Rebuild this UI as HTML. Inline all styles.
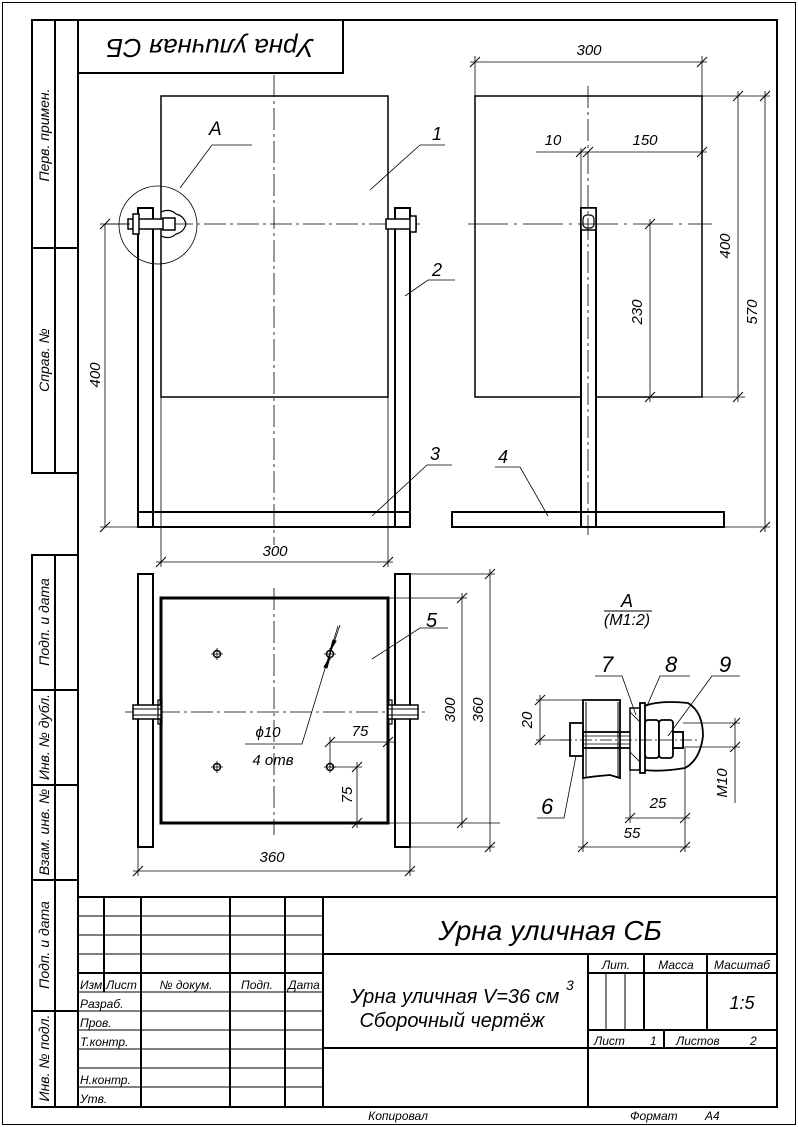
<!DOCTYPE html>
<html><head><meta charset="utf-8"><style>
html,body{margin:0;padding:0;background:#fff;}
svg{display:block;}
text{font-family:"Liberation Sans","DejaVu Sans",sans-serif;font-style:italic;fill:#000;}
</style></head><body>
<svg width="798" height="1127" viewBox="0 0 798 1127" xmlns="http://www.w3.org/2000/svg">
<defs>
<g id="tick"><line x1="-5" y1="5" x2="5" y2="-5" stroke="#000" stroke-width="1"/></g>
</defs>
<rect x="0" y="0" width="798" height="1127" fill="#fff"/>
<!-- outer thin border -->
<rect x="2.5" y="2.5" width="793" height="1122" fill="none" stroke="#000" stroke-width="1"/>
<!-- inner frame -->
<g fill="none" stroke="#000" stroke-width="2">
<rect x="78" y="20" width="699" height="1087"/>
<rect x="32" y="20" width="46" height="453"/>
<line x1="32" y1="248" x2="78" y2="248"/>
<line x1="55" y1="20" x2="55" y2="473"/>
<rect x="32" y="555" width="46" height="552"/>
<line x1="55" y1="555" x2="55" y2="1107"/>
<line x1="32" y1="690" x2="78" y2="690"/>
<line x1="32" y1="785" x2="78" y2="785"/>
<line x1="32" y1="880" x2="78" y2="880"/>
<line x1="32" y1="1011" x2="78" y2="1011"/>
<!-- top-left box -->
<rect x="78" y="20" width="265" height="53"/>
</g>
<!-- side labels -->
<g font-size="14">
<text transform="translate(49,135) rotate(-90)" text-anchor="middle">Перв. примен.</text>
<text transform="translate(49,360) rotate(-90)" text-anchor="middle">Справ. №</text>
<text transform="translate(49,622) rotate(-90)" text-anchor="middle">Подп. и дата</text>
<text transform="translate(49,737) rotate(-90)" text-anchor="middle">Инв. № дубл.</text>
<text transform="translate(49,832) rotate(-90)" text-anchor="middle">Взам. инв. №</text>
<text transform="translate(49,945) rotate(-90)" text-anchor="middle">Подп. и дата</text>
<text transform="translate(49,1058) rotate(-90)" text-anchor="middle">Инв. № подл.</text>
</g>
<text transform="translate(210,46) rotate(180)" text-anchor="middle" font-size="26" dominant-baseline="middle">Урна уличная СБ</text>

<!-- ===== FRONT VIEW ===== -->
<g stroke="#000" fill="none">
<rect x="161" y="96" width="227" height="301" stroke-width="1.5"/>
<rect x="138" y="208" width="15" height="319" stroke-width="2" fill="#fff"/>
<rect x="395" y="208" width="15" height="319" stroke-width="2" fill="#fff"/>
<rect x="138" y="512" width="272" height="15" stroke-width="2"/>
<line x1="153" y1="512" x2="153" y2="527" stroke-width="2"/>
<line x1="395" y1="512" x2="395" y2="527" stroke-width="2"/>
<!-- centerlines -->
<line x1="274" y1="75" x2="274" y2="545" stroke-width="0.8" stroke-dasharray="22,4,3,4"/>
<line x1="105" y1="224" x2="420" y2="224" stroke-width="0.8" stroke-dasharray="22,4,3,4"/>
<!-- bolts -->
<rect x="128" y="219" width="38" height="10" stroke-width="1.5" fill="#fff"/>
<rect x="133" y="214" width="6" height="20" stroke-width="1.5" fill="#fff"/>
<rect x="163" y="218" width="12" height="12" stroke-width="1.5" fill="#fff"/>
<path d="M161 212 Q170 208 176 214 Q184 216 186 224 Q184 232 176 234 Q170 240 161 236" stroke-width="1.2"/>
<rect x="386" y="219" width="30" height="10" stroke-width="1.5" fill="#fff"/>
<rect x="410" y="216" width="6" height="16" stroke-width="1.5" fill="#fff"/>
<circle cx="158" cy="225" r="39" stroke-width="0.8"/>
<!-- leader A -->
<polyline points="180,188 212,145 252,145" stroke-width="0.8"/>
<!-- leader 1,2,3 -->
<polyline points="370,190 420,145 445,145" stroke-width="0.8"/>
<polyline points="405,296 428,280 455,280" stroke-width="0.8"/>
<polyline points="372,516 427,465 452,465" stroke-width="0.8"/>
<!-- dim 400 -->
<line x1="105" y1="224" x2="105" y2="527" stroke-width="0.8"/>
<line x1="100" y1="224" x2="130" y2="224" stroke-width="0.8"/>
<line x1="100" y1="527" x2="138" y2="527" stroke-width="0.8"/>
<!-- dim 300 -->
<line x1="161" y1="397" x2="161" y2="567" stroke-width="0.8"/>
<line x1="388" y1="397" x2="388" y2="567" stroke-width="0.8"/>
<line x1="156" y1="562" x2="393" y2="562" stroke-width="0.8"/>
</g>
<use href="#tick" x="105" y="224"/><use href="#tick" x="105" y="527"/>
<use href="#tick" x="161" y="562"/><use href="#tick" x="388" y="562"/>
<g font-size="18">
<text x="209" y="135" font-size="19">А</text>
<text x="432" y="140">1</text>
<text x="432" y="276">2</text>
<text x="430" y="460">3</text>
<text x="275" y="556" text-anchor="middle" font-size="15">300</text>
<text transform="translate(100,375) rotate(-90)" text-anchor="middle" font-size="15">400</text>
</g>

<!-- ===== SIDE VIEW ===== -->
<g stroke="#000" fill="none">
<rect x="475" y="96" width="227" height="301" stroke-width="1.5"/>
<rect x="581" y="208" width="15" height="319" stroke-width="2" fill="#fff"/>
<rect x="452" y="512" width="272" height="15" stroke-width="2"/>
<line x1="581" y1="512" x2="581" y2="527" stroke-width="2"/>
<line x1="596" y1="512" x2="596" y2="527" stroke-width="2"/>
<rect x="581" y="208" width="15" height="22" stroke-width="1.5" fill="#fff"/>
<rect x="583" y="215" width="11" height="13" rx="4" stroke-width="1.2"/>
<line x1="588" y1="86" x2="588" y2="535" stroke-width="0.8" stroke-dasharray="22,4,3,4"/>
<line x1="468" y1="224" x2="712" y2="224" stroke-width="0.8" stroke-dasharray="40,6,3,6"/>
<!-- dim 300 -->
<line x1="475" y1="56" x2="475" y2="96" stroke-width="0.8"/>
<line x1="702" y1="56" x2="702" y2="96" stroke-width="0.8"/>
<line x1="470" y1="62" x2="707" y2="62" stroke-width="0.8"/>
<!-- dim 10/150 -->
<line x1="536" y1="152" x2="707" y2="152" stroke-width="0.8"/>
<line x1="581" y1="148" x2="581" y2="208" stroke-width="0.8"/>
<!-- dim 400 / 570 -->
<line x1="702" y1="96" x2="770" y2="96" stroke-width="0.8"/>
<line x1="702" y1="397" x2="745" y2="397" stroke-width="0.8"/>
<line x1="724" y1="527" x2="770" y2="527" stroke-width="0.8"/>
<line x1="738" y1="91" x2="738" y2="402" stroke-width="0.8"/>
<line x1="765" y1="91" x2="765" y2="532" stroke-width="0.8"/>
<!-- dim 230 -->
<line x1="650" y1="219" x2="650" y2="402" stroke-width="0.8"/>
<!-- leader 4 -->
<polyline points="548,516 520,467 495,467" stroke-width="0.8"/>
</g>
<use href="#tick" x="475" y="62"/><use href="#tick" x="702" y="62"/>
<use href="#tick" x="581" y="152"/><use href="#tick" x="588" y="152"/><use href="#tick" x="702" y="152"/>
<use href="#tick" x="738" y="96"/><use href="#tick" x="738" y="397"/>
<use href="#tick" x="765" y="96"/><use href="#tick" x="765" y="527"/>
<use href="#tick" x="650" y="224"/><use href="#tick" x="650" y="397"/>
<g font-size="15">
<text x="589" y="55" text-anchor="middle">300</text>
<text x="553" y="145" text-anchor="middle">10</text>
<text x="645" y="145" text-anchor="middle">150</text>
<text transform="translate(730,246) rotate(-90)" text-anchor="middle">400</text>
<text transform="translate(757,312) rotate(-90)" text-anchor="middle">570</text>
<text transform="translate(642,312) rotate(-90)" text-anchor="middle">230</text>
<text x="498" y="463" font-size="18">4</text>
</g>

<!-- ===== TOP VIEW ===== -->
<g stroke="#000" fill="none">
<rect x="161" y="598" width="227" height="225" stroke-width="3"/>
<rect x="138" y="574" width="15" height="273" stroke-width="2" fill="#fff"/>
<rect x="395" y="574" width="15" height="273" stroke-width="2" fill="#fff"/>
<line x1="274" y1="588" x2="274" y2="835" stroke-width="0.8" stroke-dasharray="22,4,3,4"/>
<line x1="125" y1="712" x2="425" y2="712" stroke-width="0.8" stroke-dasharray="22,4,3,4"/>
<rect x="133" y="705" width="28" height="14" stroke-width="1.5" fill="#fff"/>
<line x1="133" y1="709" x2="161" y2="709" stroke-width="1"/><line x1="133" y1="715" x2="161" y2="715" stroke-width="1"/>
<rect x="158" y="700" width="4" height="24" stroke-width="1.2"/>
<rect x="388" y="705" width="30" height="14" stroke-width="1.5" fill="#fff"/>
<line x1="388" y1="709" x2="418" y2="709" stroke-width="1"/><line x1="388" y1="715" x2="418" y2="715" stroke-width="1"/>
<rect x="388" y="700" width="4" height="24" stroke-width="1.2"/>
<g stroke-width="1.5">
<circle cx="217" cy="654" r="3.5"/><circle cx="330" cy="654" r="3.5"/>
<circle cx="217" cy="767" r="3.5"/><circle cx="330" cy="767" r="3.5"/>
</g>
<g stroke-width="0.8">
<path d="M211 654h12M217 648v12M324 654h12M330 648v12M211 767h12M217 761v12M324 767h12M330 761v12"/>
<!-- leader phi10 -->
<polyline points="338,626 302,744 245,744"/>
<!-- 75 dims -->
<line x1="330" y1="742" x2="395" y2="742"/>
<line x1="330" y1="737" x2="330" y2="767"/>
<line x1="330" y1="767" x2="362" y2="767"/>
<line x1="357" y1="762" x2="357" y2="828"/>
<line x1="388" y1="823" x2="500" y2="823"/>
<!-- 360 / 300 dims -->
<line x1="138" y1="847" x2="138" y2="876"/>
<line x1="410" y1="847" x2="410" y2="876"/>
<line x1="133" y1="871" x2="415" y2="871"/>
<line x1="388" y1="598" x2="467" y2="598"/>
<line x1="410" y1="574" x2="495" y2="574"/>
<line x1="410" y1="847" x2="495" y2="847"/>
<line x1="462" y1="593" x2="462" y2="828"/>
<line x1="490" y1="569" x2="490" y2="852"/>
<!-- leader 5 -->
<polyline points="372,659 420,628 448,628"/>
</g>
</g>
<path d="M330 651 L336 641 L333 640 Z M330 657 L324 667 L327 668 Z" fill="#000" stroke="#000"/>
<line x1="328" y1="660" x2="340" y2="625" stroke="#000" stroke-width="0.8"/>
<use href="#tick" x="138" y="871"/><use href="#tick" x="410" y="871"/>
<use href="#tick" x="462" y="598"/><use href="#tick" x="462" y="823"/>
<use href="#tick" x="490" y="574"/><use href="#tick" x="490" y="847"/>
<use href="#tick" x="330" y="742"/><use href="#tick" x="388" y="742"/>
<use href="#tick" x="357" y="767"/><use href="#tick" x="357" y="823"/>
<g font-size="15">
<text x="272" y="862" text-anchor="middle">360</text>
<text transform="translate(455,710) rotate(-90)" text-anchor="middle">300</text>
<text transform="translate(483,710) rotate(-90)" text-anchor="middle">360</text>
<text x="360" y="736" text-anchor="middle">75</text>
<text transform="translate(352,795) rotate(-90)" text-anchor="middle">75</text>
<text x="268" y="737" text-anchor="middle">ϕ10</text>
<text x="273" y="765" text-anchor="middle">4 отв</text>
<text x="426" y="627" font-size="20">5</text>
</g>

<!-- ===== DETAIL A ===== -->
<text x="627" y="607" text-anchor="middle" font-size="18" font-style="normal">А</text>
<line x1="604" y1="611" x2="652" y2="611" stroke="#000" stroke-width="1"/>
<text x="627" y="625" text-anchor="middle" font-size="16" font-style="normal">(М1:2)</text>
<g stroke="#000" fill="none">
<path d="M583 700 H620 V778 L610 775 Q596 776 583 778 Z" stroke-width="1.8" fill="#fff"/>
<line x1="586" y1="702" x2="586" y2="777" stroke-width="1"/>
<line x1="618" y1="702" x2="618" y2="777" stroke-width="1"/>
<path d="M644 706 Q660 700 688 703 Q703 712 703 736 Q700 760 685 768 Q662 772 644 770" stroke-width="1.8" fill="#fff"/>
<rect x="570" y="723" width="13" height="33" stroke-width="1.8" fill="#fff"/>
<rect x="583" y="732" width="100" height="16" stroke-width="1.8"/>
<line x1="583" y1="736" x2="683" y2="736" stroke-width="0.8"/>
<line x1="583" y1="744" x2="683" y2="744" stroke-width="0.8"/>
<rect x="630" y="708" width="10" height="62" stroke-width="1.5" fill="#fff"/>
<line x1="630" y1="712" x2="640" y2="722" stroke-width="0.8"/>
<line x1="630" y1="752" x2="640" y2="762" stroke-width="0.8"/>
<rect x="640" y="703" width="5" height="70" stroke-width="1.8" fill="#fff"/>
<rect x="645" y="720" width="14" height="38" rx="3" stroke-width="1.8" fill="#fff"/>
<rect x="659" y="720" width="14" height="38" rx="3" stroke-width="1.8" fill="#fff"/>
<rect x="673" y="732" width="10" height="16" stroke-width="1.8" fill="#fff"/>
<line x1="560" y1="740" x2="700" y2="740" stroke-width="0.8" stroke-dasharray="12,3,2,3"/>
<g stroke-width="0.8">
<line x1="536" y1="700" x2="583" y2="700"/>
<line x1="536" y1="740" x2="570" y2="740"/>
<line x1="540" y1="695" x2="540" y2="745"/>
<line x1="683" y1="723" x2="740" y2="723"/>
<line x1="683" y1="747" x2="740" y2="747"/>
<line x1="735" y1="718" x2="735" y2="803"/>
<line x1="630" y1="770" x2="630" y2="823"/>
<line x1="685" y1="748" x2="685" y2="852"/>
<line x1="583" y1="778" x2="583" y2="852"/>
<line x1="625" y1="818" x2="690" y2="818"/>
<line x1="578" y1="847" x2="690" y2="847"/>
<polyline points="576,756 564,818 537,818"/>
<polyline points="636,715 622,676 595,676"/>
<polyline points="647,706 660,676 690,676"/>
<polyline points="668,736 712,676 740,676"/>
</g>
</g>
<use href="#tick" x="540" y="700"/><use href="#tick" x="540" y="740"/>
<use href="#tick" x="735" y="723"/><use href="#tick" x="735" y="747"/>
<use href="#tick" x="630" y="818"/><use href="#tick" x="685" y="818"/>
<use href="#tick" x="583" y="847"/><use href="#tick" x="685" y="847"/>
<g font-size="15">
<text transform="translate(532,720) rotate(-90)" text-anchor="middle">20</text>
<text transform="translate(727,783) rotate(-90)" text-anchor="middle">М10</text>
<text x="658" y="808" text-anchor="middle">25</text>
<text x="632" y="838" text-anchor="middle">55</text>
<text x="541" y="814" font-size="22">6</text>
<text x="601" y="672" font-size="22">7</text>
<text x="665" y="672" font-size="22">8</text>
<text x="719" y="672" font-size="22">9</text>
</g>

<!-- ===== TITLE BLOCK ===== -->
<g stroke="#000" fill="none" stroke-width="2">
<line x1="78" y1="897" x2="777" y2="897"/>
<line x1="323" y1="954" x2="777" y2="954"/>
<line x1="78" y1="973" x2="323" y2="973"/>
<line x1="588" y1="973" x2="777" y2="973"/>
<line x1="588" y1="1030" x2="777" y2="1030"/>
<line x1="323" y1="1048" x2="777" y2="1048"/>
<line x1="104" y1="897" x2="104" y2="992"/>
<line x1="141" y1="897" x2="141" y2="1107"/>
<line x1="230" y1="897" x2="230" y2="1107"/>
<line x1="285" y1="897" x2="285" y2="1107"/>
<line x1="323" y1="897" x2="323" y2="1107"/>
<line x1="588" y1="954" x2="588" y2="1107"/>
<line x1="644" y1="954" x2="644" y2="1030"/>
<line x1="707" y1="954" x2="707" y2="1030"/>
<line x1="664" y1="1030" x2="664" y2="1048"/>
</g>
<g stroke="#000" stroke-width="1">
<line x1="78" y1="916" x2="323" y2="916"/>
<line x1="78" y1="935" x2="323" y2="935"/>
<line x1="78" y1="954" x2="323" y2="954"/>
<line x1="78" y1="992" x2="323" y2="992"/>
<line x1="78" y1="1011" x2="323" y2="1011"/>
<line x1="78" y1="1030" x2="323" y2="1030"/>
<line x1="78" y1="1049" x2="323" y2="1049"/>
<line x1="78" y1="1068" x2="323" y2="1068"/>
<line x1="78" y1="1087" x2="323" y2="1087"/>
<line x1="606" y1="973" x2="606" y2="1030"/>
<line x1="625" y1="973" x2="625" y2="1030"/>
</g>
<g font-size="12">
<text x="80" y="989">Изм.</text><text x="106" y="989">Лист</text>
<text x="186" y="989" text-anchor="middle">№ докум.</text>
<text x="257" y="989" text-anchor="middle">Подп.</text>
<text x="304" y="989" text-anchor="middle">Дата</text>
<text x="80" y="1008">Разраб.</text>
<text x="80" y="1027">Пров.</text>
<text x="80" y="1046">Т.контр.</text>
<text x="80" y="1084">Н.контр.</text>
<text x="80" y="1103">Утв.</text>
<text x="616" y="969" text-anchor="middle">Лит.</text>
<text x="676" y="969" text-anchor="middle">Масса</text>
<text x="742" y="969" text-anchor="middle">Масштаб</text>
<text x="594" y="1045">Лист</text><text x="650" y="1045">1</text>
<text x="676" y="1045">Листов</text><text x="750" y="1045">2</text>
<text x="398" y="1120" text-anchor="middle">Копировал</text>
<text x="630" y="1120">Формат</text><text x="705" y="1120">А4</text>
</g>
<text x="742" y="1009" text-anchor="middle" font-size="18">1:5</text>
<text x="550" y="940" text-anchor="middle" font-size="28">Урна уличная СБ</text>
<text x="455" y="1003" text-anchor="middle" font-size="20">Урна уличная V=36 см</text>
<text x="566" y="990" font-size="14">3</text>
<text x="452" y="1027" text-anchor="middle" font-size="20">Сборочный чертёж</text>
</svg>
</body></html>
